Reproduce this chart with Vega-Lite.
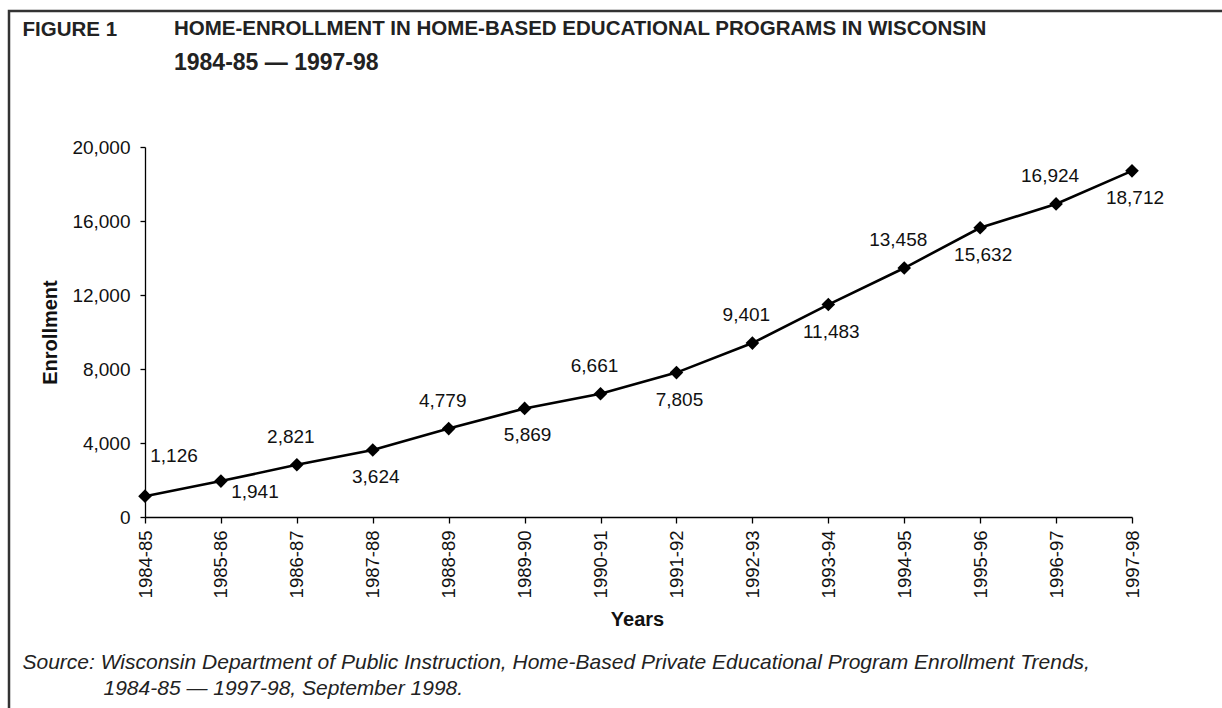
{
  "$schema": "https://vega.github.io/schema/vega-lite/v6.json",
  "autosize": "none",
  "width": 1216,
  "height": 700,
  "padding": {"left": 9, "top": 11, "right": -3, "bottom": -3},
  "background": "white",
  "title": {
    "text": "HOME-ENROLLMENT IN HOME-BASED EDUCATIONAL PROGRAMS IN WISCONSIN",
    "subtitle": "1984-85 — 1997-98",
    "anchor": "start",
    "frame": "group",
    "dx": 165,
    "offset": -64,
    "font": "Liberation Sans",
    "fontSize": 20.5,
    "fontWeight": "bold",
    "color": "#222222",
    "subtitleFont": "Liberation Sans",
    "subtitleFontSize": 23,
    "subtitleFontWeight": "bold",
    "subtitleColor": "#222222",
    "subtitlePadding": 13
  },
  "data": {
    "values": [
      {"year": "1984-85", "enrollment": 1126},
      {"year": "1985-86", "enrollment": 1941},
      {"year": "1986-87", "enrollment": 2821},
      {"year": "1987-88", "enrollment": 3624},
      {"year": "1988-89", "enrollment": 4779},
      {"year": "1989-90", "enrollment": 5869},
      {"year": "1990-91", "enrollment": 6661},
      {"year": "1991-92", "enrollment": 7805},
      {"year": "1992-93", "enrollment": 9401},
      {"year": "1993-94", "enrollment": 11483},
      {"year": "1994-95", "enrollment": 13458},
      {"year": "1995-96", "enrollment": 15632},
      {"year": "1996-97", "enrollment": 16924},
      {"year": "1997-98", "enrollment": 18712}
    ]
  },
  "resolve": {"axis": {"x": "independent", "y": "independent"}},
  "layer": [
    {
      "mark": {"type": "line", "color": "#000000", "strokeWidth": 2.6},
      "encoding": {
        "x": {
          "field": "year", "type": "ordinal", "sort": null,
          "scale": {"type": "point", "padding": 0, "range": [136, 1123]},
          "axis": {
            "orient": "bottom", "offset": -194, "title": "Years",
            "labelAngle": -90, "labelFont": "Liberation Sans", "labelFontSize": 18.5, "labelColor": "#111111",
            "labelPadding": 7, "tickSize": 6, "tickColor": "#000000", "domainColor": "#000000", "domainWidth": 1.3, "tickWidth": 1.3,
            "titleFont": "Liberation Sans", "titleFontSize": 20, "titleFontWeight": "bold", "titleColor": "#111111",
            "titleX": 628, "titleY": 102, "titleAlign": "center", "titleBaseline": "middle", "grid": false
          }
        },
        "y": {
          "field": "enrollment", "type": "quantitative",
          "scale": {"domain": [0, 20000], "range": [506, 136], "nice": false, "zero": true},
          "axis": {
            "orient": "left", "offset": -136, "title": "Enrollment",
            "values": [0, 4000, 8000, 12000, 16000, 20000], "format": ",d",
            "labelFont": "Liberation Sans", "labelFontSize": 19, "labelColor": "#111111", "labelPadding": 10,
            "tickSize": 5, "tickColor": "#000000", "domainColor": "#000000", "domainWidth": 1.3, "tickWidth": 1.3,
            "titleFont": "Liberation Sans", "titleFontSize": 20, "titleFontWeight": "bold", "titleColor": "#111111",
            "titleX": -95, "titleY": 321, "titleAngle": 270, "titleAlign": "center", "titleBaseline": "middle", "grid": false
          }
        }
      }
    },
    {
      "mark": {"type": "point", "shape": "diamond", "filled": true, "size": 185, "color": "#000000", "opacity": 1},
      "encoding": {
        "x": {
          "field": "year", "type": "ordinal", "sort": null,
          "axis": {
            "orient": "top", "offset": 0, "domain": false, "ticks": false, "labels": false, "grid": false,
            "title": "FIGURE 1", "titleX": 13, "titleY": 18, "titleAlign": "left", "titleBaseline": "middle", "titleAngle": 0,
            "titleFont": "Liberation Sans", "titleFontSize": 20.5, "titleFontWeight": "bold", "titleColor": "#222222"
          }
        },
        "y": {"field": "enrollment", "type": "quantitative", "axis": null}
      }
    },
    {
      "transform": [{"filter": {"field": "year", "oneOf": ["1986-87", "1988-89", "1990-91", "1992-93", "1994-95", "1996-97"]}}],
      "mark": {"type": "text", "font": "Liberation Sans", "fontSize": 19, "color": "#111111", "align": "center", "baseline": "middle", "dx": -6, "dy": -28},
      "encoding": {
        "x": {
          "field": "year", "type": "ordinal", "sort": null,
          "axis": {
            "orient": "bottom", "offset": 0, "domain": false, "ticks": false, "labels": false, "grid": false,
            "title": "Source: Wisconsin Department of Public Instruction, Home-Based Private Educational Program Enrollment Trends,",
            "titleX": 13, "titleY": -49, "titleAlign": "left", "titleBaseline": "middle", "titleAngle": 0,
            "titleFont": "Liberation Sans", "titleFontSize": 21, "titleFontWeight": "normal", "titleFontStyle": "italic", "titleColor": "#222222"
          }
        },
        "y": {"field": "enrollment", "type": "quantitative", "axis": null},
        "text": {"field": "enrollment", "type": "quantitative", "format": ",d"}
      }
    },
    {
      "transform": [{"filter": {"field": "year", "oneOf": ["1987-88", "1989-90", "1991-92", "1993-94", "1995-96", "1997-98"]}}],
      "mark": {"type": "text", "font": "Liberation Sans", "fontSize": 19, "color": "#111111", "align": "center", "baseline": "middle", "dx": 3, "dy": 27},
      "encoding": {
        "x": {
          "field": "year", "type": "ordinal", "sort": null,
          "axis": {
            "orient": "bottom", "offset": 0, "domain": false, "ticks": false, "labels": false, "grid": false,
            "title": "1984-85 — 1997-98, September 1998.",
            "titleX": 94, "titleY": -23, "titleAlign": "left", "titleBaseline": "middle", "titleAngle": 0,
            "titleFont": "Liberation Sans", "titleFontSize": 21, "titleFontWeight": "normal", "titleFontStyle": "italic", "titleColor": "#222222"
          }
        },
        "y": {"field": "enrollment", "type": "quantitative", "axis": null},
        "text": {"field": "enrollment", "type": "quantitative", "format": ",d"}
      }
    },
    {
      "transform": [{"filter": {"field": "year", "equal": "1984-85"}}],
      "mark": {"type": "text", "font": "Liberation Sans", "fontSize": 19, "color": "#111111", "align": "center", "baseline": "middle", "dx": 29, "dy": -40},
      "encoding": {
        "x": {"field": "year", "type": "ordinal", "sort": null, "axis": null},
        "y": {"field": "enrollment", "type": "quantitative", "axis": null},
        "text": {"field": "enrollment", "type": "quantitative", "format": ",d"}
      }
    },
    {
      "transform": [{"filter": {"field": "year", "equal": "1985-86"}}],
      "mark": {"type": "text", "font": "Liberation Sans", "fontSize": 19, "color": "#111111", "align": "center", "baseline": "middle", "dx": 34, "dy": 11},
      "encoding": {
        "x": {"field": "year", "type": "ordinal", "sort": null, "axis": null},
        "y": {"field": "enrollment", "type": "quantitative", "axis": null},
        "text": {"field": "enrollment", "type": "quantitative", "format": ",d"}
      }
    }
  ],
  "config": {
    "view": {"stroke": "#333333", "strokeWidth": 2.5, "fill": null}
  }
}
